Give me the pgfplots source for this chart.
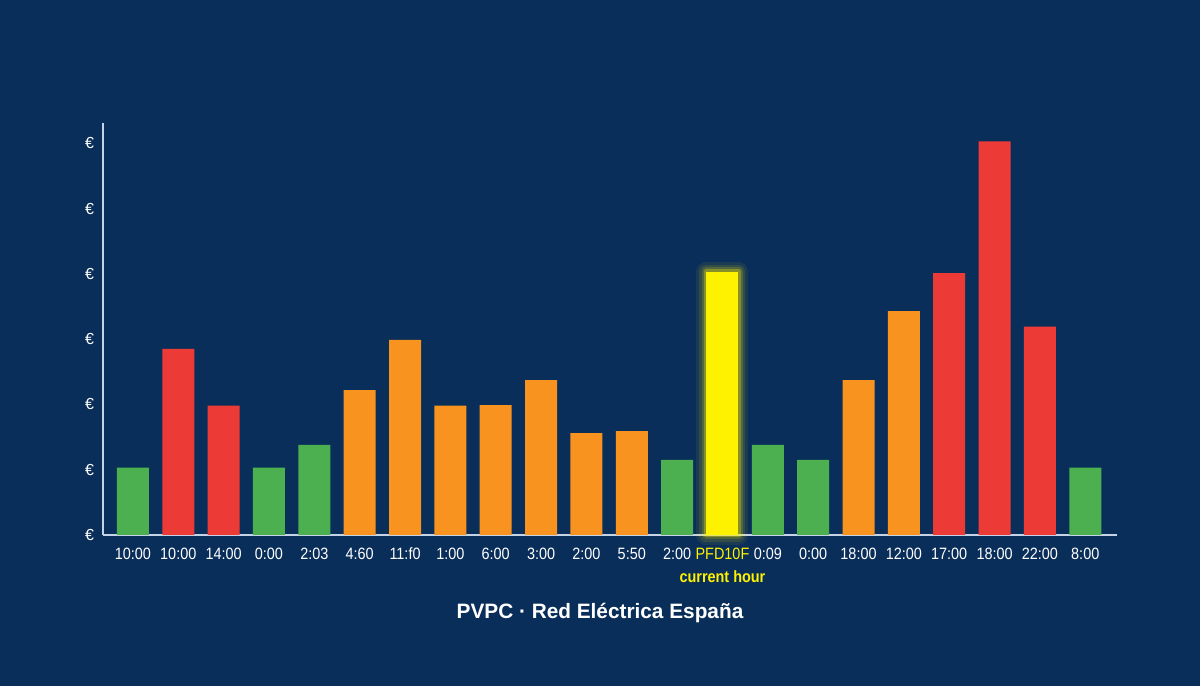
\documentclass[border=0pt]{standalone}
\usepackage{pgfplots}
\pgfplotsset{compat=1.18}
\usepackage{fontspec}
\setmainfont{Liberation Sans}
\newfontfamily\tickfont{Liberation Sans}[FakeStretch=0.88]

\definecolor{bg}{HTML}{0A2E5A}
\definecolor{axisc}{HTML}{C4D4E6}
\definecolor{grn}{HTML}{4CAF50}
\definecolor{rd}{HTML}{EC3B36}
\definecolor{org}{HTML}{F7931E}
\definecolor{ylw}{HTML}{FFF200}

\begin{document}
\begin{tikzpicture}
  % page background, 1200x686 px at 0.5bp per px
  \fill[bg] (0,0) rectangle (600bp,343bp);
  \begin{axis}[
      at={(51.5bp,75.5bp)}, anchor=south west,
      scale only axis,
      width=507bp, height=206bp,
      xmin=-0.66, xmax=21.7,
      ymin=0, ymax=6.31,
      axis x line=bottom, axis y line=left,
      axis line style={draw=axisc, line width=0.8bp, -},
      major tick length=0pt,
      ybar, bar width=16bp, bar shift=0pt,
      xtick={0,...,21},
      xticklabels={10:00,10:00,14:00,0:00,2:03,4:60,11:f0,1:00,6:00,3:00,2:00,5:50,2:00,
        {\textcolor{ylw}{PFD10F}\\\textbf{\textcolor{ylw}{current hour}}},
        0:09,0:00,18:00,12:00,17:00,18:00,22:00,8:00},
      xticklabel style={font=\tickfont\fontsize{8.2bp}{11.5bp}\selectfont, text=white, align=center, yshift=-3bp},
      ytick={0,...,6},
      yticklabels={€,€,€,€,€,€,€},
      yticklabel style={font=\fontsize{8bp}{10bp}\selectfont, text=white, xshift=-1bp},
      clip=false,
    ]
    \addplot[draw=none, fill=grn] coordinates {
      (0,1.03) (3,1.03) (4,1.38) (12,1.15) (14,1.38) (15,1.15) (21,1.03)};
    \addplot[draw=none, fill=rd] coordinates {
      (1,2.85) (2,1.98) (18,4.01) (19,6.03) (20,3.19)};
    \addplot[draw=none, fill=org] coordinates {
      (5,2.22) (6,2.99) (7,1.98) (8,1.99) (9,2.37) (10,1.56) (11,1.59)
      (16,2.37) (17,3.43)};
    % soft glow round the current hour
    \addplot[fill=none, draw=ylw, draw opacity=0.07, line width=10bp, line join=round] coordinates {(13,4.03)};
    \addplot[fill=none, draw=ylw, draw opacity=0.10, line width=7bp, line join=round] coordinates {(13,4.03)};
    \addplot[fill=none, draw=ylw, draw opacity=0.16, line width=4.5bp, line join=round] coordinates {(13,4.03)};
    \addplot[fill=none, draw=ylw, draw opacity=0.3, line width=2.5bp, line join=round] coordinates {(13,4.03)};
    \addplot[draw=none, fill=ylw] coordinates {(13,4.03)};
  \end{axis}
  \node[text=white, font=\fontsize{10.4bp}{13bp}\selectfont\bfseries] at (300bp,36.5bp) {PVPC · Red Eléctrica España};
\end{tikzpicture}
\end{document}
